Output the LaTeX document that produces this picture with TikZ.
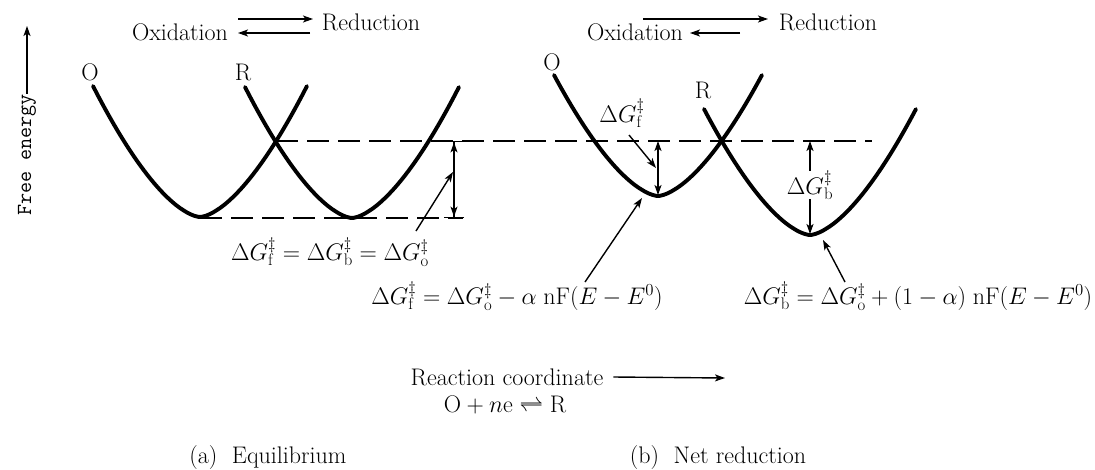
\RequirePackage{fix-cm}
\documentclass[tikz,border=0pt]{standalone}
\usepackage{fontspec}
\usetikzlibrary{arrows.meta}
\tikzset{
  txt/.style={font=\fontsize{24}{28}\selectfont, inner sep=0pt},
  ttxt/.style={font=\ttfamily\fontsize{21.5}{24}\selectfont, inner sep=0pt},
  curve/.style={line width=3.9pt, line cap=round},
  dline/.style={line width=2.2pt, dash pattern=on 22pt off 9pt},
  tipS/.tip={Stealth[length=10pt,width=7pt,inset=2.5pt]},
  arr/.style={line width=1.4pt, -tipS},
  darr/.style={line width=1.4pt, tipS-tipS},
  bdarr/.style={line width=1.4pt, {Bar[width=20pt] tipS[]}-{tipS[] Bar[width=20pt]}}
}
\begin{document}
\begin{tikzpicture}[x=1pt,y=-1pt]
\path[use as bounding box] (0,0) rectangle (1095,469);

% ---- axis label
\node[ttxt, rotate=90] (fe) at (27,155) {Free energy};
\coordinate (fetop) at (27,26);
\draw[arr] (fe.east) -- (fetop);

% ---- top labels, left panel
\node[txt] (ox1) at (180,32) {Oxidation};
\node[txt] (re1) at (371,22) {Reduction};
\coordinate (a1s) at (238,19); \coordinate (a1e) at (313,19);
\coordinate (b1s) at (310,33); \coordinate (b1e) at (238,33);
\draw[arr] (a1s) -- (a1e);
\draw[arr] (b1s) -- (b1e);

% ---- top labels, right panel
\node[txt] (ox2) at (635,32) {Oxidation};
\node[txt] (re2) at (828,22) {Reduction};
\coordinate (a2s) at (643,19); \coordinate (a2e) at (768,19);
\coordinate (b2s) at (740,33); \coordinate (b2e) at (690,33);
\draw[arr] (a2s) -- (a2e);
\draw[arr] (b2s) -- (b2e);

% ---- curve labels
\node[txt] (O1) at (90,72) {O};
\node[txt] (R1) at (243,72) {R};
\node[txt] (O2) at (552,62) {O};
\node[txt] (R2) at (703,90) {R};

% ---- curves
\draw[curve] plot[domain=-1:1,samples=60,smooth] ({200+107*\x},{217-131*abs(\x)^1.6});
\draw[curve] plot[domain=-1:1,samples=60,smooth] ({352+107*\x},{218-131*abs(\x)^1.6});
\draw[curve] plot[domain=-1:1,samples=60,smooth] ({658+104*\x},{196-121*abs(\x)^1.6});
\draw[curve] plot[domain=-1:1,samples=60,smooth] ({810+106*\x},{235-126*abs(\x)^1.6});

% ---- dashed levels
\coordinate (xL) at (276,141); \coordinate (dEnd) at (872,141);
\coordinate (vO1) at (200,218); \coordinate (lowEnd) at (463,218);
\draw[dline] (xL) -- (dEnd);
\draw[dline] (vO1) -- (lowEnd);

% ---- left panel barrier arrow
\coordinate (d1t) at (454,141); \coordinate (d1b) at (454,218);
\draw[bdarr] (d1t) -- (d1b);
\node[txt] (f0) at (330,252) {$\Delta G^{\ddagger}_{\mathrm f} = \Delta G^{\ddagger}_{\mathrm b} = \Delta G^{\ddagger}_{\mathrm o}$};
\coordinate (p0s) at (416,231); \coordinate (p0e) at (453,172);
\draw[arr] (p0s) -- (p0e);

% ---- right panel forward barrier
\node[txt] (gf) at (622,113) {$\Delta G^{\ddagger}_{\mathrm f}$};
\coordinate (gfs) at (629,135); \coordinate (gfe) at (656,168);
\draw[arr] (gfs) -- (gfe);
\coordinate (d2t) at (658,141); \coordinate (d2b) at (658,195);
\draw[darr] (d2t) -- (d2b);

% ---- right panel backward barrier
\node[txt] (gb) at (810,185) {$\Delta G^{\ddagger}_{\mathrm b}$};
\coordinate (gbt) at (810,141); \coordinate (gbb) at (810,234);
\draw[arr] (gb.north) -- (gbt);
\draw[arr] (gb.south) -- (gbb);

% ---- formulas
\node[txt] (f1) at (517,296) {$\Delta G^{\ddagger}_{\mathrm f} = \Delta G^{\ddagger}_{\mathrm o} - \alpha\;\mathrm{nF}(E - E^{0})$};
\node[txt] (f2) at (918,296) {$\Delta G^{\ddagger}_{\mathrm b} = \Delta G^{\ddagger}_{\mathrm o} + (1 - \alpha)\;\mathrm{nF}(E - E^{0})$};
\coordinate (p1s) at (585,282); \coordinate (p1e) at (642,198);
\coordinate (p2s) at (845,282); \coordinate (p2e) at (823,240);
\draw[arr] (p1s) -- (p1e);
\draw[arr] (p2s) -- (p2e);

% ---- reaction coordinate
\node[txt] (rc) at (507,377) {Reaction coordinate};
\coordinate (rce) at (725,378);
\draw[arr] ([xshift=10pt]rc.east) -- (rce);
\node[txt] (eq) at (505,405) {$\mathrm{O} + n\mathrm{e} \rightleftharpoons \mathrm{R}$};

% ---- captions
\node[txt] (ca) at (268,458) {(a)\ \ Equilibrium};
\node[txt] (cb) at (718,458) {(b)\ \ Net reduction};
\end{tikzpicture}
\end{document}
